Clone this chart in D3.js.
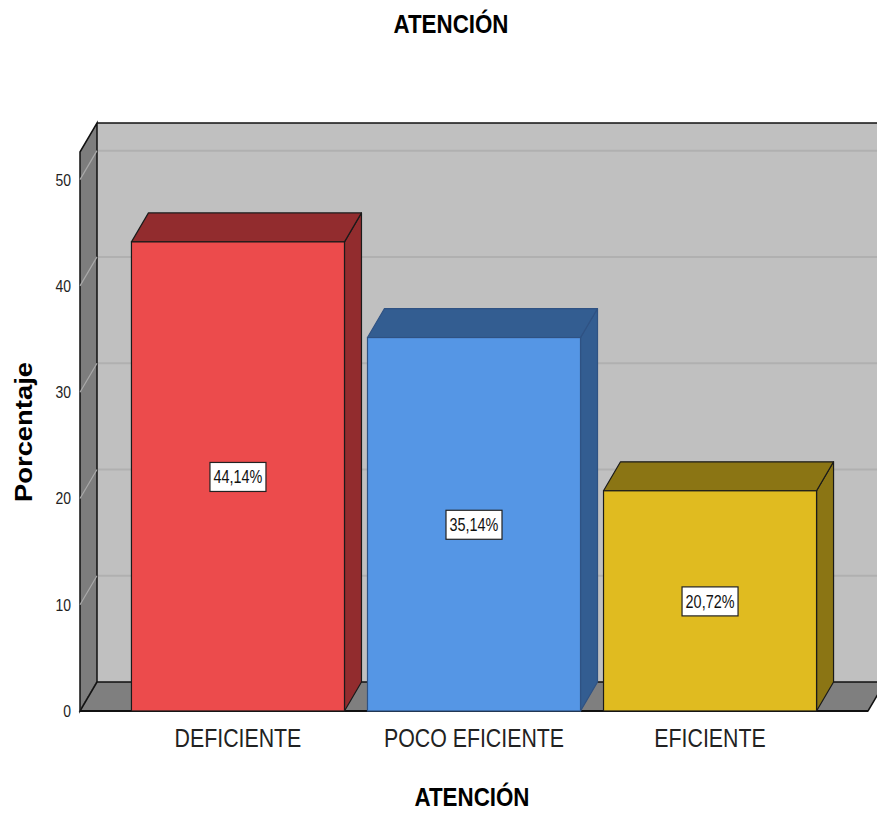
<!DOCTYPE html>
<html>
<head>
<meta charset="utf-8">
<script src="https://cdn.jsdelivr.net/npm/d3@7"></script>
<style>
  html, body { margin: 0; padding: 0; background: #fff; }
  svg { display: block; }
  .narrow { font-family: "Liberation Sans", Arial, sans-serif; }
  .bold { font-family: "Liberation Sans", Arial, sans-serif; font-weight: bold; }
</style>
</head>
<body>
<div class="container"></div>
<script>
(function () {

    //chart data
    var categories = ["DEFICIENTE", "POCO EFICIENTE", "EFICIENTE"];
    var percentages = [44.14, 35.14, 20.72];
    var yTicks = [0, 10, 20, 30, 40, 50];
    var chartTitle = "ATENCIÓN";
    var xTitle = "ATENCIÓN";
    var yTitle = "Porcentaje";

    //colours: front face, top/side face, outline
    var frontColors = ["#ec4b4c", "#5596e5", "#e0bb20"];
    var shadeColors = ["#922c2e", "#335d91", "#8b7514"];
    var strokeColors = ["#1a1a1a", "#2f5283", "#1a1a1a"];

    //squeeze text horizontally, no narrow font installed
    function squeeze(sel, factor) {
        sel.each(function () {
            var w = this.getComputedTextLength();
            d3.select(this)
                .attr("textLength", w * factor)
                .attr("lengthAdjust", "spacingAndGlyphs");
        });
    }

    function setChart() {
        var width = 877,
            height = 816;

        //3d depth offset
        var dx = 17,
            dy = 29;

        var svg = d3.select(".container")
            .append("svg")
            .attr("width", width)
            .attr("height", height);

        var yScale = d3.scaleLinear()
            .domain([0, 52.6])
            .range([711, 152]);

        var xScale = d3.scaleBand()
            .domain(categories)
            .range([80, 868])
            .paddingInner(0.0975)
            .paddingOuter(0.218);

        var x0 = 80,
            x1 = 868,
            yTop = yScale.range()[1],
            yBase = yScale(0);

        //back wall
        svg.append("rect")
            .attr("x", x0 + dx)
            .attr("y", yTop - dy)
            .attr("width", width - x0)
            .attr("height", yBase - yTop)
            .style("fill", "#c0c0c0");

        //back wall gridlines
        svg.selectAll(".gridBack")
            .data(yTicks.slice(1))
            .enter()
            .append("line")
            .attr("class", "gridBack")
            .attr("x1", x0 + dx)
            .attr("x2", width)
            .attr("y1", function (d) { return yScale(d) - dy; })
            .attr("y2", function (d) { return yScale(d) - dy; })
            .style("stroke", "#b0b0b0")
            .style("stroke-width", 2);

        //top edge of back wall
        svg.append("line")
            .attr("x1", x0 + dx).attr("x2", width)
            .attr("y1", yTop - dy).attr("y2", yTop - dy)
            .style("stroke", "#111")
            .style("stroke-width", 1.5);

        //left wall
        svg.append("path")
            .attr("d", d3.line()([
                [x0, yTop], [x0 + dx, yTop - dy], [x0 + dx, yBase - dy], [x0, yBase]
            ]) + "Z")
            .style("fill", "#7d7d7d")
            .style("stroke", "#111")
            .style("stroke-width", 1.5);

        //left wall gridlines
        svg.selectAll(".gridSide")
            .data(yTicks)
            .enter()
            .append("line")
            .attr("class", "gridSide")
            .attr("x1", x0)
            .attr("x2", x0 + dx)
            .attr("y1", function (d) { return yScale(d); })
            .attr("y2", function (d) { return yScale(d) - dy; })
            .style("stroke", "#a9a9a9")
            .style("stroke-width", 1.2);

        //floor
        svg.append("path")
            .attr("d", d3.line()([
                [x0, yBase], [x1, yBase], [x1 + dx, yBase - dy], [x0 + dx, yBase - dy]
            ]) + "Z")
            .style("fill", "#7f7f7f")
            .style("stroke", "#111")
            .style("stroke-width", 1.5);

        //floor front edge, drawn again so it sits on top
        svg.append("line")
            .attr("x1", x0).attr("x2", x1)
            .attr("y1", yBase).attr("y2", yBase)
            .style("stroke", "#111")
            .style("stroke-width", 2);

        //bars
        var bw = xScale.bandwidth();
        var bars = svg.selectAll(".bar")
            .data(percentages)
            .enter()
            .append("g")
            .attr("class", "bar");

        //side face
        bars.append("path")
            .attr("d", function (d, i) {
                var x = xScale(categories[i]), y = yScale(d);
                return d3.line()([
                    [x + bw, y], [x + bw + dx, y - dy], [x + bw + dx, yBase - dy], [x + bw, yBase]
                ]) + "Z";
            })
            .style("fill", function (d, i) { return shadeColors[i]; })
            .style("stroke", function (d, i) { return strokeColors[i]; })
            .style("stroke-width", 1.2)
            .style("stroke-linejoin", "round");

        //top face
        bars.append("path")
            .attr("d", function (d, i) {
                var x = xScale(categories[i]), y = yScale(d);
                return d3.line()([
                    [x, y], [x + dx, y - dy], [x + bw + dx, y - dy], [x + bw, y]
                ]) + "Z";
            })
            .style("fill", function (d, i) { return shadeColors[i]; })
            .style("stroke", function (d, i) { return strokeColors[i]; })
            .style("stroke-width", 1.2)
            .style("stroke-linejoin", "round");

        //front face
        bars.append("rect")
            .attr("x", function (d, i) { return xScale(categories[i]); })
            .attr("y", function (d) { return yScale(d); })
            .attr("width", bw)
            .attr("height", function (d) { return yBase - yScale(d); })
            .style("fill", function (d, i) { return frontColors[i]; })
            .style("stroke", function (d, i) { return strokeColors[i]; })
            .style("stroke-width", 1.2);

        //value labels in white boxes
        var esFormat = d3.formatLocale({ decimal: ",", thousands: ".", grouping: [3], currency: ["", "€"] }).format(".2f");
        var labels = bars.append("g")
            .attr("transform", function (d, i) {
                var cx = xScale(categories[i]) + bw / 2,
                    cy = (yScale(d) + yBase) / 2;
                return "translate(" + cx + "," + cy + ")";
            });
        labels.append("rect")
            .attr("x", -28)
            .attr("y", -14)
            .attr("width", 56)
            .attr("height", 29)
            .style("fill", "#fff")
            .style("stroke", "#222")
            .style("stroke-width", 1.2);
        var valueText = labels.append("text")
            .attr("class", "narrow")
            .attr("text-anchor", "middle")
            .attr("y", 7)
            .style("font-size", "18px")
            .style("fill", "#111")
            .text(function (d) { return esFormat(d) + "%"; });
        squeeze(valueText, 0.8);

        //y axis labels
        var yAxis = d3.axisLeft(yScale)
            .tickValues(yTicks)
            .tickSize(0)
            .tickPadding(9)
            .tickFormat(d3.format("d"));

        var axis = svg.append("g")
            .attr("transform", "translate(" + x0 + ",0)")
            .call(yAxis);
        axis.select(".domain").remove();
        axis.selectAll("text")
            .attr("class", "narrow")
            .style("font-size", "17px")
            .style("fill", "#222");
        squeeze(axis.selectAll("text"), 0.82);

        //category labels
        var xAxis = d3.axisBottom(xScale)
            .tickSize(0)
            .tickPadding(18);
        var xg = svg.append("g")
            .attr("transform", "translate(0," + yBase + ")")
            .call(xAxis);
        xg.select(".domain").remove();
        xg.selectAll("text")
            .attr("class", "narrow")
            .style("font-size", "26px")
            .style("fill", "#222");
        squeeze(xg.selectAll("text"), 0.82);

        //titles
        svg.append("text")
            .attr("class", "bold")
            .attr("x", 451)
            .attr("y", 33)
            .attr("text-anchor", "middle")
            .attr("textLength", 115)
            .attr("lengthAdjust", "spacingAndGlyphs")
            .style("font-size", "25px")
            .text(chartTitle);

        svg.append("text")
            .attr("class", "bold")
            .attr("x", 472)
            .attr("y", 806)
            .attr("text-anchor", "middle")
            .attr("textLength", 115)
            .attr("lengthAdjust", "spacingAndGlyphs")
            .style("font-size", "25px")
            .text(xTitle);

        svg.append("text")
            .attr("class", "bold")
            .attr("transform", "translate(32,432) rotate(-90)")
            .attr("text-anchor", "middle")
            .attr("textLength", 140)
            .attr("lengthAdjust", "spacingAndGlyphs")
            .style("font-size", "23px")
            .text(yTitle);
    }

    window.onload = setChart;

})();
</script>
</body>
</html>
